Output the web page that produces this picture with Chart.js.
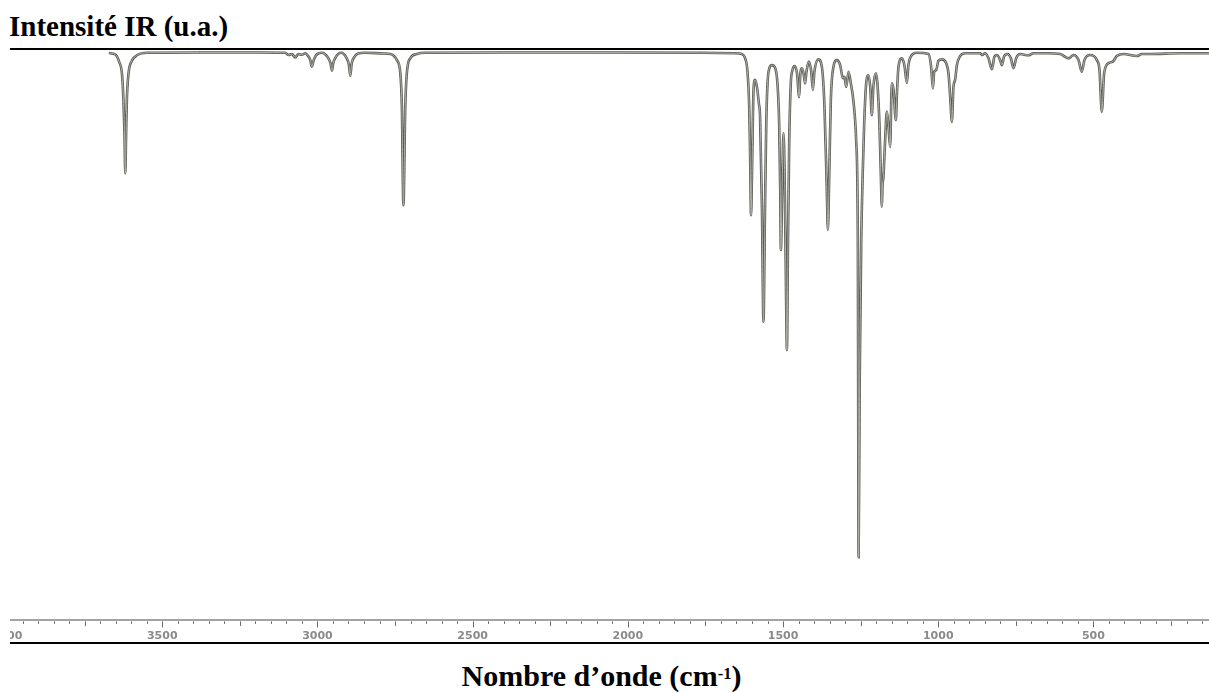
<!DOCTYPE html>
<html lang="fr">
<head>
<meta charset="utf-8">
<title>Spectre IR</title>
<script src="https://cdn.jsdelivr.net/npm/chart.js@4.4.1/dist/chart.umd.min.js"></script>
<style>
  html, body { margin: 0; padding: 0; background: #fff; }
  body { position: relative; width: 1209px; height: 693px; overflow: hidden; }
  #yTitle {
    position: absolute; left: 9px; top: 12px;
    font: bold 29px 'Liberation Serif', 'Times New Roman', serif;
    line-height: 29px; white-space: nowrap; color: #000;
  }
  #frame {
    position: absolute; left: 10px; top: 48px;
    width: 1199px; height: 592px;
    border-top: 2px solid #000; border-bottom: 2px solid #000;
    overflow: hidden;
  }
  #chart { position: absolute; left: -34.3px; top: 0; }
  #xTitle {
    position: absolute; left: 0; top: 661px; width: 1203px; text-align: center;
    font: bold 30px 'Liberation Serif', 'Times New Roman', serif;
    line-height: 30px; white-space: nowrap; color: #000;
  }
  #xTitle sup { font-size: 0.55em; vertical-align: baseline; position: relative; top: -0.45em; }
</style>
</head>
<body>
<div id="yTitle">Intensité IR (u.a.)</div>
<div id="frame"><canvas id="chart" width="1236" height="601" style="width:1236px;height:601px"></canvas></div>
<div id="xTitle">Nombre d’onde (cm<sup>-1</sup>)</div>

<script>
// ── Data (wavenumber in cm-1, intensity in u.a.) ──
const wavenumbers = [
  3672, 3651, 3638.5, 3630, 3625, 3621.5, 3619, 3616.5, 3614, 3608.5, 3600, 3580, 3549,
  3380, 3185, 3104, 3093, 3082, 3072, 3061, 3050, 3039, 3030, 3023, 3018, 3012, 3004, 2986,
  2965, 2958, 2953, 2949, 2941, 2924, 2906, 2899, 2894, 2890, 2881.5, 2869, 2846,
  2788, 2765, 2744, 2733, 2728, 2723, 2717, 2712, 2701, 2680, 2653,
  2410, 2090, 1767, 1654,
  1633, 1622, 1615, 1609, 1606, 1603, 1600, 1595, 1590, 1584, 1578, 1574, 1568, 1563, 1558, 1554,
  1550, 1544, 1536, 1525, 1518, 1512.5, 1509, 1507, 1502, 1498.5, 1495, 1491, 1487.5, 1484, 1480, 1475, 1469.5, 1463,
  1455, 1448, 1445, 1439, 1434, 1429, 1424.5, 1417, 1409, 1404, 1399, 1386,
  1375, 1366.5, 1359, 1355.5, 1351, 1346, 1337.5, 1326.5, 1316, 1307, 1302, 1296.5, 1289, 1281.5, 1273, 1264.5,
  1259, 1256.5, 1253, 1248, 1243, 1238.5, 1232, 1225, 1219, 1214, 1209, 1201,
  1196, 1189.5, 1185, 1181.5, 1179.5, 1176.5, 1171, 1165.5, 1160.5, 1155, 1149.5, 1144, 1136.5, 1133, 1128,
  1117, 1109, 1101, 1096, 1085, 1069, 1031.5, 1023, 1017, 1013, 1007, 999, 988, 974.5, 967, 961.5, 956, 951, 945.5, 940, 929.5, 913,
  865, 859.5, 849, 838, 827, 819, 811, 800.5, 795, 788, 777, 766, 757.5, 749, 736, 709.5, 693,
  645, 607, 580.5, 564, 548, 537.5, 529, 510.5, 489, 480.5, 473, 465.5, 451.5, 437.5, 424.5, 403.5, 360, 344, 317, 221, 127, 110
];

const intensities = [
  0.2, 0.5, 2.0, 4.2, 9.5, 16.4, 24.0, 16.4, 9.5, 4.2, 2.0, 0.6, 0.15,
  0.1, 0.1, 0.15, 0.6, 0.4, 1.05, 0.4, 0.55, 0.25, 0.8, 1.6, 2.9, 1.6, 0.6, 0.15,
  1.2, 2.2, 3.7, 2.2, 1.0, 0.15, 1.2, 2.4, 4.7, 2.4, 1.0, 0.3, 0.15,
  0.3, 0.4, 1.6, 4.2, 10.8, 30.3, 10.8, 4.2, 1.25, 0.4, 0.15,
  0.1, 0.1, 0.15, 0.25,
  0.4, 1.25, 3.6, 10.8, 20.7, 32.3, 24.0, 7.5, 5.5, 6.9, 10.1, 12.8, 30.6, 53.4, 30.6, 14.1,
  6.2, 3.2, 2.6, 3.2, 6.2, 14.1, 27.3, 39.2, 24.0, 16.1, 24.0, 43.8, 59.0, 37.2, 17.4, 6.2, 3.6, 2.8,
  4.2, 8.9, 4.9, 3.2, 4.2, 6.2, 3.9, 1.9, 3.9, 7.5, 3.9, 1.45,
  2.9, 10.8, 27.3, 35.2, 24.0, 9.5, 2.9, 1.6, 2.6, 5.2, 4.9, 6.9, 3.9, 6.2, 9.8, 17.4,
  37.2, 100, 65, 37.2, 23.4, 14.1, 6.1, 4.6, 6.9, 12.5, 6.9, 4.2,
  6.2, 14.1, 24.0, 30.6, 26.3, 24.7, 17.4, 11.8, 14.5, 18.8, 6.2, 7.5, 13.5, 8.2, 2.9,
  1.25, 2.6, 6.1, 2.6, 0.6, 0.15, 0.4, 2.9, 7.2, 3.9, 3.6, 1.7, 1.45, 2.2, 4.2, 8.9, 13.8, 6.9, 5.5, 2.6, 0.8, 0.25,
  0.25, 0.6, 0.25, 1.25, 3.4, 0.9, 0.6, 1.6, 2.6, 0.9, 0.4, 1.25, 3.2, 1.25, 0.4, 0.65, 0.25,
  0.25, 0.4, 1.25, 0.6, 1.6, 3.9, 1.6, 0.6, 1.6, 3.6, 11.8, 4.2, 2.2, 1.9, 0.8, 0.4, 0.8, 0.4, 0.4, 0.25, 0.25, 0.25
];

// labelled ticks, and the small tick spacing of the axis
const tickValues = [4000, 3500, 3000, 2500, 2000, 1500, 1000, 500];
const minorStep  = 50;
const mediumStep = 250;
const majorStep  = 500;

// axis range (cm-1, high on the left) and intensity range (peaks point down)
const X_MAX = 4100, X_MIN = 118;
const Y_MIN = -0.4, Y_MAX = 112.5;

const points = wavenumbers.map((w, i) => ({ x: w, y: intensities[i] }));

// ── Small tick marks every 50 cm-1 ────────────────────────────
const axisTicks = {
  id: 'axisTicks',
  afterDraw(chart) {
    const xs  = chart.scales.x;
    const ctx = chart.ctx;
    const y0  = chart.chartArea.bottom + 1;
    ctx.save();
    ctx.strokeStyle = '#6a6a6a';
    ctx.lineWidth = 1;
    for (let w = Math.ceil(X_MIN / minorStep) * minorStep; w <= X_MAX; w += minorStep) {
      const len = w % majorStep === 0 ? 6 : (w % mediumStep === 0 ? 4.5 : 2.5);
      const px  = Math.round(xs.getPixelForValue(w)) + 0.5;
      ctx.beginPath();
      ctx.moveTo(px, y0);
      ctx.lineTo(px, y0 + len);
      ctx.stroke();
    }
    ctx.restore();
  }
};

// ── Chart ─────────────────────────────────────────────────────
const lineStyle = { pointRadius: 0, fill: false, cubicInterpolationMode: 'monotone' };

new Chart(document.getElementById('chart').getContext('2d'), {
  type: 'line',
  data: {
    datasets: [
      { ...lineStyle, data: points, borderColor: '#b0b0a9', borderWidth: 1 },
      { ...lineStyle, data: points, borderColor: '#5c5c56', borderWidth: 2.6 },
    ]
  },
  options: {
    responsive: false,
    animation: false,
    events: [],
    layout: { padding: 0 },
    plugins: { legend: { display: false }, tooltip: { enabled: false } },
    scales: {
      x: {
        type: 'linear',
        reverse: true,
        min: X_MIN,
        max: X_MAX,
        afterBuildTicks: scale => { scale.ticks = tickValues.map(v => ({ value: v })); },
        grid:   { display: false, drawTicks: false },
        border: { display: true, color: '#a3a3a3', width: 2 },
        ticks: {
          padding: 8.7,
          color: '#8a8a8a',
          autoSkip: false,
          maxRotation: 0,
          font: { family: 'DejaVu Sans', size: 11, weight: 'bold' },
          callback: v => String(v),
        }
      },
      y: { display: false, reverse: true, min: Y_MIN, max: Y_MAX }
    }
  },
  plugins: [axisTicks]
});
</script>
</body>
</html>
